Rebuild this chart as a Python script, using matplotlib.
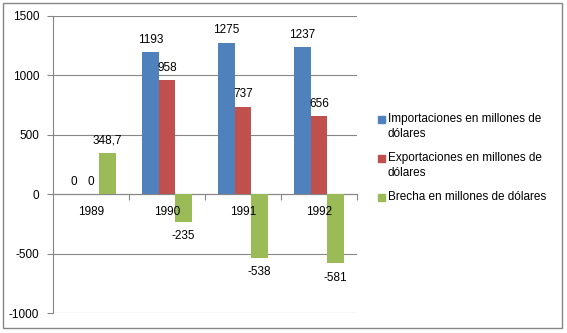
import numpy as np
import matplotlib.pyplot as plt
from matplotlib.patches import Rectangle

plt.rcParams['font.family'] = ['Liberation Sans', 'DejaVu Sans']
plt.rcParams['axes.unicode_minus'] = False

# Data
years = ['1989', '1990', '1991', '1992']
importaciones = [0, 1193, 1275, 1237]
exportaciones = [0, 958, 737, 656]
brecha = [348.7, -235, -538, -581]

series_names = ['Importaciones en millones de\ndólares',
                'Exportaciones en millones de\ndólares',
                'Brecha en millones de dólares']
colors = ['#4F81BD', '#C0504D', '#9BBB59']
grid_col = '#868686'
fs = 8.5

W, H = 567, 333
fig = plt.figure(figsize=(W / 100, H / 100), dpi=100)
ax = fig.add_axes([53 / W, 1 - 313 / H, (357 - 53) / W, (313 - 16) / H])

x = np.arange(len(years))
w = 0.22
all_series = [importaciones, exportaciones, brecha]

for k, (vals, col) in enumerate(zip(all_series, colors)):
    pos = x + (k - 1) * w
    ax.bar(pos, vals, width=w, color=col, zorder=3)
    for xp, v in zip(pos, vals):
        lab = f'{v:g}'.replace('.', ',')
        if v > 0:
            off = 9
        elif v < 0:
            off = -10.3
        else:
            off = 8.6
        ax.annotate(lab, (xp, v), xytext=(0, off), textcoords='offset points',
                    ha='center', va='center', fontsize=fs, zorder=4)

# category labels under the zero line
for i, yr in enumerate(years):
    ax.annotate(yr, (i, 0), xytext=(0, -13), textcoords='offset points',
                ha='center', va='center', fontsize=fs)

ax.set_xlim(-0.5, 3.5)
ax.set_ylim(-1000, 1500)
ax.set_yticks([-1000, -500, 0, 500, 1000, 1500])
ax.yaxis.grid(True, color=grid_col, lw=0.8, zorder=0)
ax.set_axisbelow(True)

ax.spines['top'].set_visible(False)
ax.spines['right'].set_visible(False)
ax.spines['left'].set_color(grid_col)
ax.spines['bottom'].set_position(('data', 0))
ax.spines['bottom'].set_color(grid_col)
ax.set_xticks([0.5, 1.5, 2.5, 3.5])
ax.set_xticklabels([])
ax.tick_params(axis='x', length=4, color=grid_col, direction='out')
ax.tick_params(axis='y', length=4, color=grid_col, pad=6, labelsize=fs)

# legend drawn by hand (square aligned with the first line)
leg_y = [119.5, 158.5, 197.5]
for name, col, yy in zip(series_names, colors, leg_y):
    fig.add_artist(Rectangle((378 / W, 1 - (yy + 3.5) / H), 7 / W, 7 / H,
                             transform=fig.transFigure, color=col))
    fig.text(388 / W, 1 - (yy - 6.5) / H, name, fontsize=fs, va='top', ha='left',
             linespacing=1.3)

# outer border
fig.add_artist(Rectangle((3 / W, 1 - 328 / H), 559 / W, 325 / H,
                         transform=fig.transFigure, fill=False,
                         edgecolor=grid_col, lw=1))

plt.savefig('out.png', dpi=100)
